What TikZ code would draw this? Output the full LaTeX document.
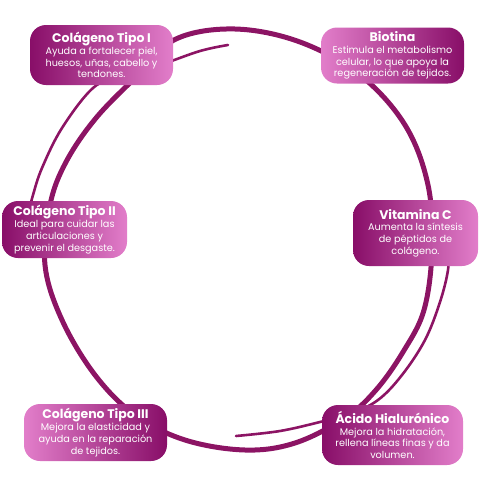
\documentclass[tikz,border=0pt]{standalone}
\usepackage{fontspec}
\setmainfont{Poppins}
\definecolor{ringcol}{RGB}{140,20,100}
\definecolor{boxdark}{RGB}{136,14,104}
\definecolor{boxpink}{RGB}{226,126,202}
\newcommand{\ttl}[1]{{\fontsize{12.5}{14}\selectfont\bfseries #1}}

\begin{document}
\begin{tikzpicture}[x=1pt, y=-1pt,
    ring/.style={draw=ringcol, line cap=round, line join=round},
    item/.style={rounded corners=16pt, text=white, align=center, inner sep=1pt,
                 font=\fontsize{9.7}{11.8}\selectfont},
    darkleft/.style={item, left color=boxdark, right color=boxpink},
    pinkleft/.style={item, left color=boxpink, right color=boxdark}
  ]
    \useasboundingbox (0,0) rectangle (480,480);
    \draw[ring, line width=5pt] plot[smooth cycle, tension=0.6] coordinates {
      (235,29) (300,42) (360,75) (405,125) (428,185) (432,250) (424,310)
      (403,352) (376,390) (345,418) (295,443) (245,450) (185,440) (135,415)
      (95,375) (62,320) (45,265) (50,205) (66,162) (96,118) (138,75) (176,39)};
    \draw[ring, line width=2.6pt] plot[smooth, tension=0.6] coordinates {
      (228,45) (200,51) (160,65) (120,77) (93,88) (62,128) (42,168) (33,195) (28,215)};
    \draw[ring, line width=2.6pt] plot[smooth, tension=0.6] coordinates {
      (448,250) (448,270) (440,302) (425,340) (402,375) (378,400) (350,414)
      (320,422) (280,431) (236,436)};
    \node[darkleft, minimum width=143pt, minimum height=60pt] (col1) at (101.5,55)
      {\ttl{Colágeno Tipo I}\\ Ayuda a fortalecer piel,\\ huesos, uñas, cabello y\\ tendones.};
    \node[pinkleft, minimum width=143pt, minimum height=56pt] (bio) at (392.5,55.5)
      {\ttl{Biotina}\\ Estimula el metabolismo\\ celular, lo que apoya la\\ regeneración de tejidos.};
    \node[darkleft, minimum width=125pt, minimum height=57pt] (col2) at (64.5,229.5)
      {\ttl{Colágeno Tipo II}\\ Ideal para cuidar las\\ articulaciones y\\ prevenir el desgaste.};
    \node[darkleft, minimum width=125pt, minimum height=66pt] (vit) at (415.5,233)
      {\ttl{Vitamina C}\\ Aumenta la síntesis\\ de péptidos de\\ colágeno.};
    \node[pinkleft, minimum width=143pt, minimum height=57pt] (col3) at (95.5,432.5)
      {\ttl{Colágeno Tipo III}\\ Mejora la elasticidad y\\ ayuda en la reparación\\ de tejidos.};
    \node[darkleft, minimum width=141pt, minimum height=60pt] (aci) at (392.5,435)
      {\ttl{Ácido Hialurónico}\\ Mejora la hidratación,\\ rellena líneas finas y da\\ volumen.};
  \end{tikzpicture}
\end{document}
